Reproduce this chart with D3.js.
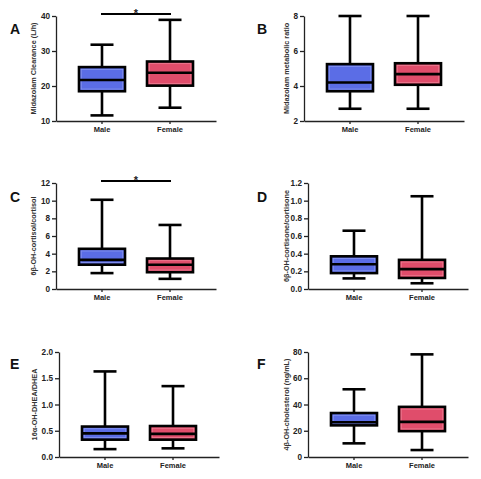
<!DOCTYPE html>
<html><head><meta charset="utf-8">
<script src="https://cdn.jsdelivr.net/npm/d3@7/dist/d3.min.js"></script>
<style>
body{margin:0;background:#fff;}
svg{display:block;font-family:"Liberation Sans",Arial,sans-serif;}
</style></head>
<body><svg id="c" width="481" height="479"></svg>
<script>
// ---- data ----
const categories = ["Male", "Female"];
const panelLetters = ["A", "B", "C", "D", "E", "F"];
const yTitles = [
  "Midazolam Clearance (L/h)",
  "Midazolam metabolic ratio",
  "6β-OH-cortisol/cortisol",
  "6β-OH-cortisone/cortisone",
  "16α-OH-DHEA/DHEA",
  "4β-OH-cholesterol (ng/mL)"
];
const yDomains = [[10, 40], [2, 8], [0, 12], [0, 1.2], [0, 2.0], [0, 80]];
const yTickValues = [
  [10, 20, 30, 40],
  [2, 4, 6, 8],
  [0, 2, 4, 6, 8, 10, 12],
  [0, 0.2, 0.4, 0.6, 0.8, 1.0, 1.2],
  [0, 0.5, 1.0, 1.5, 2.0],
  [0, 20, 40, 60, 80]
];
const yTickFormats = ["d", "d", "d", ".1f", ".1f", "d"];
// [min, q1, median, q3, max]
const maleStats = [
  [11.6, 18.5, 21.7, 25.4, 31.8],
  [2.7, 3.7, 4.2, 5.25, 8.0],
  [1.8, 2.75, 3.3, 4.55, 10.1],
  [0.12, 0.18, 0.28, 0.37, 0.66],
  [0.15, 0.33, 0.45, 0.58, 1.63],
  [10.4, 24.1, 26.5, 33.5, 51.6]
];
const femaleStats = [
  [13.8, 20.1, 23.8, 27.0, 38.9],
  [2.7, 4.07, 4.68, 5.3, 8.0],
  [1.15, 1.9, 2.75, 3.45, 7.25],
  [0.065, 0.125, 0.225, 0.33, 1.05],
  [0.165, 0.33, 0.44, 0.59, 1.35],
  [5.3, 19.7, 26.8, 38.2, 78.2]
];
const significant = [true, false, true, false, false, false];
const sigLabel = "*";

// ---- layout ----
const colors = ["#5b6de6", "#e04d6b"];
const innerColors = ["#8d9bf0", "#ee8599"];
const axisX = [56, 304, 56, 308, 59, 308];
const rowTop = [16, 16, 183, 183, 352, 352];
const rowBottom = [121, 121, 289, 289, 457, 457];
const letterX = [10, 257, 10, 257, 10, 257];
const letterY = [34, 34, 202, 202, 369, 369];
const titleOffset = [20, 15, 20, 19.5, 22.5, 19.5];
const xLen = 160;

const svg = d3.select("#c");

panelLetters.forEach((letter, i) => {
  const g = svg.append("g");
  const x0 = axisX[i];
  const y = d3.scaleLinear().domain(yDomains[i]).range([rowBottom[i], rowTop[i]]);
  const x = d3.scaleBand().domain(categories).range([x0, x0 + xLen])
    .paddingInner(0.3235).paddingOuter(0.338);

  // panel letter
  g.append("text").attr("x", letterX[i]).attr("y", letterY[i])
    .attr("font-size", 14).attr("font-weight", "bold").attr("fill", "#111").text(letter);

  // y axis
  const ya = g.append("g").attr("transform", `translate(${x0},0)`)
    .call(d3.axisLeft(y).tickValues(yTickValues[i]).tickFormat(d3.format(yTickFormats[i])).tickSize(4).tickPadding(2).tickSizeOuter(0));
  ya.select(".domain").attr("stroke", "#222").attr("stroke-width", 1.3);
  ya.selectAll(".tick line").attr("stroke", "#222").attr("stroke-width", 1.3);
  ya.selectAll(".tick text").attr("font-size", 8.2).attr("font-weight", "bold").attr("fill", "#222")
    .attr("font-family", "Liberation Sans, Arial, sans-serif");

  // x axis
  const xa = g.append("g").attr("transform", `translate(0,${rowBottom[i]})`)
    .call(d3.axisBottom(x).tickSize(3).tickPadding(3).tickSizeOuter(0));
  xa.select(".domain").attr("stroke", "#222").attr("stroke-width", 1.3);
  xa.selectAll(".tick line").attr("stroke", "#222").attr("stroke-width", 1.3);
  xa.selectAll(".tick text").attr("font-size", 7.5).attr("font-weight", "bold").attr("fill", "#222")
    .attr("font-family", "Liberation Sans, Arial, sans-serif");

  // y title
  const ym = (rowTop[i] + rowBottom[i]) / 2;
  const tx = x0 - titleOffset[i];
  g.append("text").attr("transform", `translate(${tx},${ym}) rotate(-90)`)
    .attr("text-anchor", "middle").attr("font-size", 7.3).attr("font-weight", "bold")
    .attr("fill", "#333").text(yTitles[i]);

  // boxes
  const stats = [maleStats[i], femaleStats[i]];
  categories.forEach((cat, k) => {
    const s = stats[k];
    const cx = x(cat) + x.bandwidth() / 2;
    const bw = x.bandwidth();
    const capW = 23;
    const bg = g.append("g").attr("stroke", "#000").attr("stroke-width", 2.6).attr("fill", "none");
    // whisker
    bg.append("line").attr("x1", cx).attr("x2", cx).attr("y1", y(s[0])).attr("y2", y(s[4]));
    bg.append("line").attr("x1", cx - capW / 2).attr("x2", cx + capW / 2).attr("y1", y(s[0])).attr("y2", y(s[0]));
    bg.append("line").attr("x1", cx - capW / 2).attr("x2", cx + capW / 2).attr("y1", y(s[4])).attr("y2", y(s[4]));
    // box
    bg.append("rect").attr("x", x(cat)).attr("width", bw)
      .attr("y", y(s[3])).attr("height", y(s[1]) - y(s[3]))
      .attr("fill", colors[k]);
    // inner highlight
    const ih = y(s[1]) - y(s[3]) - 4.4;
    if (ih > 1) {
      bg.append("rect").attr("x", x(cat) + 2.2).attr("width", bw - 4.4)
        .attr("y", y(s[3]) + 2.2).attr("height", ih)
        .attr("stroke", innerColors[k]).attr("stroke-width", 0.7).attr("fill", "none");
    }
    // median
    bg.append("line").attr("x1", x(cat)).attr("x2", x(cat) + bw).attr("y1", y(s[2])).attr("y2", y(s[2]));
  });

  // significance
  if (significant[i]) {
    const cxs = categories.map(c => x(c) + x.bandwidth() / 2);
    const top = rowTop[i] - 2;
    g.append("line").attr("x1", cxs[0] - 1).attr("x2", cxs[1] + 1).attr("y1", top).attr("y2", top)
      .attr("stroke", "#000").attr("stroke-width", 2);
    g.append("text").attr("x", (cxs[0] + cxs[1]) / 2).attr("y", top + 3)
      .attr("text-anchor", "middle").attr("font-size", 11).attr("font-weight", "bold").attr("fill", "#222").text(sigLabel);
  }
});
</script></body></html>
